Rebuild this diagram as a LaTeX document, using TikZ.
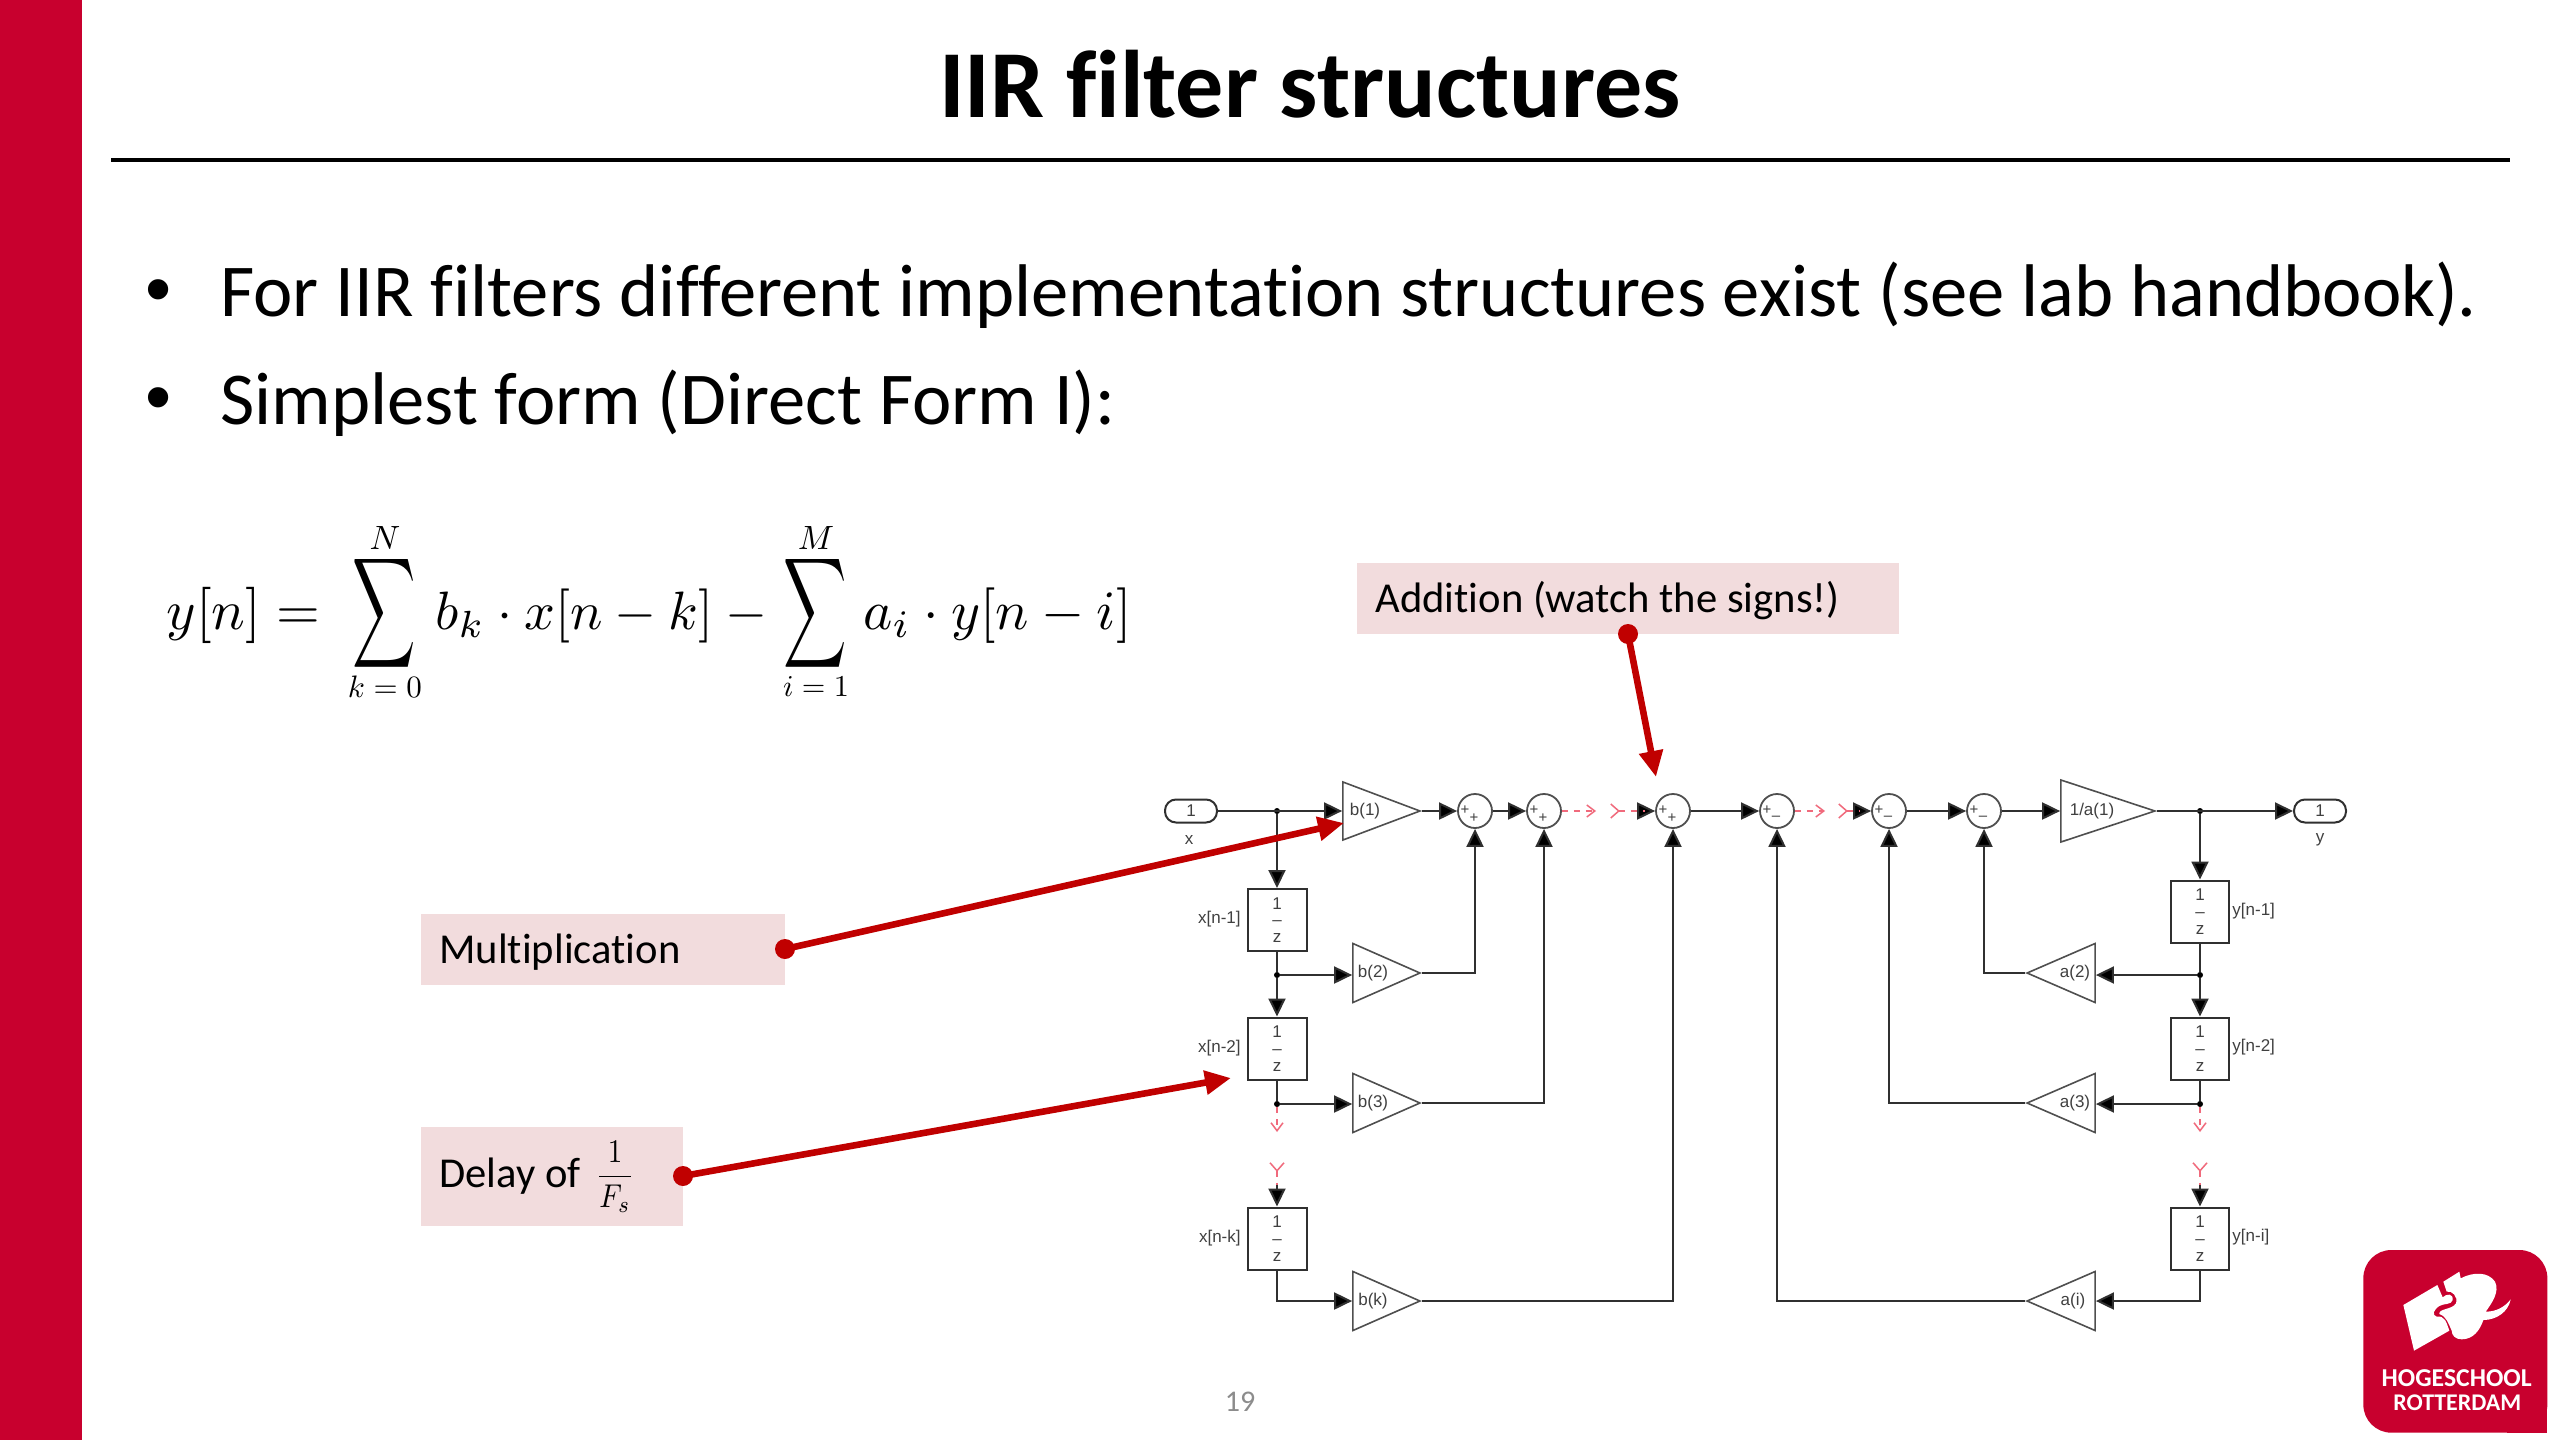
\documentclass[tikz,border=0pt]{standalone}
\usepackage{fix-cm}
\usepackage{fontspec}
\setmainfont{Carlito}[Ligatures={NoCommon}]
\newfontfamily\simfont{Liberation Sans}
\usetikzlibrary{arrows.meta,shapes.geometric,calc}
\definecolor{hrred}{HTML}{C8002E}
\definecolor{callred}{HTML}{C00000}
\definecolor{callpink}{HTML}{F2DCDD}
\definecolor{simred}{HTML}{F06A7C}
\definecolor{simline}{HTML}{303030}
\definecolor{simtxt}{HTML}{404040}
\tikzset{
  x=0.5pt,y=-0.5pt,
  sig/.style={draw=simline,line width=1pt,-{Triangle[length=9pt,width=8.5pt,fill=black]}},
  plain/.style={draw=simline,line width=1pt},
  redbroken/.style={draw=simred,line width=0.75pt,dash pattern=on 3pt off 3pt},
  gainr/.style={draw=simline!85,line width=0.8pt,isosceles triangle,isosceles triangle stretches,inner sep=0pt,anchor=apex},
  gainl/.style={gainr,shape border rotate=180},
  delaybox/.style={draw=simline,line width=1pt,rectangle,inner sep=0pt,align=center,text=simtxt,font=\simfont\fontsize{8.5}{8.4}\selectfont},
  simlabel/.style={font=\simfont\fontsize{8.5}{10}\selectfont,text=simtxt,inner sep=0pt},
  signlabel/.style={font=\simfont\fontsize{7.5}{8}\selectfont,text=simtxt,inner sep=0pt},
  port/.style={draw=simline,line width=1pt,rectangle,rounded corners=5.5pt,minimum width=26pt,minimum height=11.5pt,inner sep=0pt,font=\simfont\fontsize{8.5}{10}\selectfont,text=simtxt},
  sumnode/.style={draw=simline!85,line width=0.9pt,circle,minimum size=17pt,inner sep=0pt},
  jn/.style={circle,fill=black,inner sep=0pt,minimum size=3pt},
  callout/.style={fill=callpink,rectangle,inner sep=0pt,anchor=north west},
  calltext/.style={font=\fontsize{21.3}{24}\selectfont,text=black,inner sep=0pt,anchor=west},
  calldot/.style={circle,fill=callred,inner sep=0pt,minimum size=10pt},
  callarrow/.style={draw=callred,line width=3.3pt,-{Triangle[length=13pt,width=11.5pt]}},
  bodytext/.style={font=\fontsize{37.3}{42}\selectfont,inner sep=0pt,anchor=base west},
  bulletmark/.style={font=\simfont\fontsize{37.3}{42}\selectfont,inner sep=0pt,anchor=center},
  eq/.style={inner sep=0pt,anchor=base west},
  eqc/.style={inner sep=0pt,anchor=center},
}
\newcommand{\plusplus}[1]{%
  \node[signlabel] (#1p) at ($(#1)+(-10,-1)$) {+};
  \node[signlabel] (#1q) at ($(#1)+(-1,7)$) {+};}
\newcommand{\plusminus}[1]{%
  \node[signlabel] (#1p) at ($(#1)+(-10,-1)$) {+};
  \node[signlabel] (#1q) at ($(#1)+(-1,7)$) {–};}
\begin{document}
\begin{tikzpicture}
\useasboundingbox (0,0) rectangle (2560,1440);
\fill[white] (0,0) rectangle (2560,1440);
\fill[hrred] (0,0) rectangle (82,1440);
% title
\node[font=\fontsize{48}{54}\bfseries\selectfont,inner sep=0pt] (title) at (1310,84) {IIR filter structures};
\coordinate (rl) at (111,160); \coordinate (rr) at (2510,160);
\draw[line width=2pt] (rl) -- (rr);
% bullets
\node[bulletmark] (b1t) at (159,297) {•};
\node[bodytext] (l1) at (220,316) {For IIR filters different implementation structures exist (see lab handbook).};
\node[bulletmark] (b2t) at (159,405) {•};
\node[bodytext] (l2) at (220,424) {Simplest form (Direct Form I):};
% equation
\node[eq] (e1) at (166,629) {\resizebox{77pt}{!}{$y[n]=$}};
\node[eqc] (s1e) at (384,613) {\scalebox{2.2}[3.85]{$\displaystyle\sum$}};
\node[eqc] (n1e) at (385,538) {\resizebox{!}{11.5pt}{$N$}};
\node[eqc] (k1e) at (385,687) {\resizebox{37pt}{!}{$k=0$}};
\node[eq] (e2) at (435,629) {\resizebox{166pt}{!}{$b_k\cdot x[n-k]\mkern4mu-$}};
\node[eqc] (s2e) at (815,613) {\scalebox{2.2}[3.85]{$\displaystyle\sum$}};
\node[eqc] (n2e) at (816,538) {\resizebox{!}{11.5pt}{$M$}};
\node[eqc] (k2e) at (816,687) {\resizebox{33pt}{!}{$i=1$}};
\node[eq] (e3) at (863,629) {\resizebox{134pt}{!}{$a_i\cdot y[n-i]$}};
% diagram: left
\node[port] (inp) at (1191,811) {1};
\node[simlabel] (xl) at (1189,840) {x};
\node[jn] (j0) at (1277,811) {};
\node[gainr,minimum width=29pt,minimum height=38.5pt] (b1) at (1422,811) {};
\node[simlabel] (b1l) at (1365,811) {b(1)};
\node[sumnode] (s1) at (1475,811) {}; \plusplus{s1}
\node[sumnode] (s2) at (1544,811) {}; \plusplus{s2}
\node[sumnode] (s3) at (1673,811) {}; \plusplus{s3}
\node[delaybox,minimum width=29.5pt,minimum height=31pt] (d1) at (1277,920) {1\\–\\z};
\node[simlabel,anchor=east] (d1l) at (1241,919) {x[n-1]};
\node[jn] (j1) at (1277,975) {};
\node[gainr,minimum width=29.5pt,minimum height=33.5pt] (b2) at (1422,973) {};
\node[simlabel] (b2l) at (1373,973) {b(2)};
\node[delaybox,minimum width=29.5pt,minimum height=31pt] (d2) at (1277,1048.5) {1\\–\\z};
\node[simlabel,anchor=east] (d2l) at (1241,1048) {x[n-2]};
\node[jn] (j2) at (1277,1104) {};
\node[gainr,minimum width=29.5pt,minimum height=33.5pt] (b3) at (1422,1103) {};
\node[simlabel] (b3l) at (1373,1103) {b(3)};
\node[delaybox,minimum width=29.5pt,minimum height=31pt] (d3) at (1277,1238.5) {1\\–\\z};
\node[simlabel,anchor=east] (d3l) at (1241,1238) {x[n-k]};
\node[gainr,minimum width=29.5pt,minimum height=33.5pt] (b4) at (1422,1301) {};
\node[simlabel] (b4l) at (1373,1301) {b(k)};
% right
\node[sumnode] (s4) at (1777,811) {}; \plusminus{s4}
\node[sumnode] (s5) at (1889,811) {}; \plusminus{s5}
\node[sumnode] (s6) at (1984,811) {}; \plusminus{s6}
\node[gainr,minimum width=31pt,minimum height=47pt] (g1) at (2157,811) {};
\node[simlabel] (g1l) at (2092,811) {1/a(1)};
\node[jn] (j3) at (2200,811) {};
\node[port] (outp) at (2320,811) {1};
\node[simlabel] (yl) at (2320,840) {y};
\node[delaybox,minimum width=29pt,minimum height=31pt] (f1) at (2200,911.5) {1\\–\\z};
\node[simlabel,anchor=west] (f1l) at (2232,911) {y[n-1]};
\node[jn] (j4) at (2200,975) {};
\node[gainl,minimum width=29.5pt,minimum height=34pt] (a2) at (2025,973) {};
\node[simlabel] (a2l) at (2075,973) {a(2)};
\node[delaybox,minimum width=29pt,minimum height=31pt] (f2) at (2200,1048.5) {1\\–\\z};
\node[simlabel,anchor=west] (f2l) at (2232,1047) {y[n-2]};
\node[jn] (j5) at (2200,1104) {};
\node[gainl,minimum width=29.5pt,minimum height=34pt] (a3) at (2025,1103) {};
\node[simlabel] (a3l) at (2075,1103) {a(3)};
\node[delaybox,minimum width=29pt,minimum height=31pt] (f3) at (2200,1238.5) {1\\–\\z};
\node[simlabel,anchor=west] (f3l) at (2232,1237) {y[n-i]};
\node[gainl,minimum width=29.5pt,minimum height=34pt] (a4) at (2025,1301) {};
\node[simlabel] (a4l) at (2073,1301) {a(i)};
% free ends of the broken red parts
\coordinate (r1a) at (1596,811); \coordinate (r1b) at (1610,811); \coordinate (r1c) at (1645,811);
\coordinate (r2a) at (1277,1132); \coordinate (r2b) at (1277,1162); \coordinate (r2c) at (1277,1185);
\coordinate (r3a) at (1825,811); \coordinate (r3b) at (1838,811); \coordinate (r3c) at (1860,811);
\coordinate (r4a) at (2200,1132); \coordinate (r4b) at (2200,1162); \coordinate (r4c) at (2200,1185);
% connectors
\draw[sig] (inp.east) -- (b1.lower side);
\draw[sig] (j0) -- (d1.north);
\draw[plain] (d1.south) -- (j1);
\draw[sig] (j1) -- (j1 -| b2.lower side);
\draw[sig] (j1) -- (d2.north);
\draw[plain] (d2.south) -- (j2);
\draw[sig] (j2) -- (j2 -| b3.lower side);
\draw[sig] (r2c) -- (d3.north);
\draw[sig] (d3.south) |- (b4.lower side);
\draw[sig] (b1.apex) -- (s1.west);
\draw[sig] (s1.east) -- (s2.west);
\draw[sig] (r1c) -- (s3.west);
\draw[sig] (s3.east) -- (s4.west);
\draw[sig] (r3c) -- (s5.west);
\draw[sig] (s5.east) -- (s6.west);
\draw[sig] (s6.east) -- (g1.lower side);
\draw[sig] (g1.apex) -- (outp.west);
\draw[sig] (b2.apex) -| (s1.south);
\draw[sig] (b3.apex) -| (s2.south);
\draw[sig] (b4.apex) -| (s3.south);
\draw[sig] (a2.apex) -| (s6.south);
\draw[sig] (a3.apex) -| (s5.south);
\draw[sig] (a4.apex) -| (s4.south);
\draw[sig] (j3) -- (f1.north);
\draw[plain] (f1.south) -- (j4);
\draw[sig] (j4) -- (j4 -| a2.lower side);
\draw[sig] (j4) -- (f2.north);
\draw[plain] (f2.south) -- (j5);
\draw[sig] (j5) -- (j5 -| a3.lower side);
\draw[sig] (r4c) -- (f3.north);
\draw[sig] (f3.south) |- (a4.lower side);
% red broken lines
\draw[redbroken,-{Straight Barb[length=4pt,width=6pt]}] (s2.east) -- (r1a);
\draw[redbroken,{Straight Barb[reversed,length=4pt,width=7pt]}-] (r1b) -- (r1c);
\draw[redbroken,-{Straight Barb[length=4pt,width=6pt]}] (s4.east) -- (r3a);
\draw[redbroken,{Straight Barb[reversed,length=4pt,width=7pt]}-] (r3b) -- (r3c);
\draw[redbroken,-{Straight Barb[length=4pt,width=6pt]}] (j2) -- (r2a);
\draw[redbroken,{Straight Barb[reversed,length=4pt,width=7pt]}-] (r2b) -- (r2c);
\draw[redbroken,-{Straight Barb[length=4pt,width=6pt]}] (j5) -- (r4a);
\draw[redbroken,{Straight Barb[reversed,length=4pt,width=7pt]}-] (r4b) -- (r4c);
% callouts
\node[callout,minimum width=271pt,minimum height=35.5pt] (c1) at (1357,563) {};
\node[calltext] (c1t) at (1375,601) {Addition (watch the signs!)};
\node[calldot] (c1d) at (1628,634) {};
\coordinate (c1e) at (1656,777);
\draw[callarrow] (c1d.center) -- (c1e);
\node[callout,minimum width=182pt,minimum height=35.5pt] (c2) at (421,914) {};
\node[calltext] (c2t) at (439,952) {Multiplication};
\node[calldot] (c2d) at (785,949) {};
\coordinate (c2e) at (1344,823);
\draw[callarrow] (c2d.center) -- (c2e);
\node[callout,minimum width=131pt,minimum height=49.5pt] (c3) at (421,1127) {};
\node[calltext] (c3t) at (439,1176) {Delay of};
\node[inner sep=0pt] (c3f) at (615,1177) {\scalebox{1.45}[1.65]{$\displaystyle\frac{1}{F_s}$}};
\node[calldot] (c3d) at (683,1176) {};
\coordinate (c3e) at (1231,1078);
\draw[callarrow] (c3d.center) -- (c3e);
% page number
\node[font=\fontsize{15}{18}\selectfont,text=black!45,inner sep=0pt] (pg) at (1240,1402) {19};
% logo
\begin{scope}[shift={(2340,1240)},x=0.16667pt,y=-0.16667pt]
\fill[hrred,rounded corners=14pt] (70,30) rectangle (622,578);
\fill[hrred] (500,450) rectangle (622,578);
\fill[white] (190,195) -- (292,135) -- (308,172) .. controls (320,160) and (340,160) .. (338,180)
  .. controls (335,195) and (310,190) .. (298,198) .. controls (280,210) and (275,225) .. (290,230)
  .. controls (315,225) and (320,250) .. (328,272) -- (222,332) -- cycle;
\fill[white] (310,125) -- (358,95) -- (362,115) .. controls (400,95) and (445,95) .. (465,125)
  .. controls (480,155) and (455,190) .. (437,215) .. controls (470,215) and (495,200) .. (512,178)
  .. controls (505,215) and (470,240) .. (430,240) .. controls (420,270) and (400,298) .. (365,298)
  .. controls (345,298) and (335,285) .. (335,272) .. controls (325,250) and (320,230) .. (298,222)
  .. controls (295,205) and (335,210) .. (348,190) .. controls (355,170) and (335,150) .. (320,155) -- cycle;
\node[inner sep=0pt,text=white] (lg1) at (350,415) {\resizebox{75pt}{!}{\bfseries HOGESCHOOL}};
\node[inner sep=0pt,text=white] (lg2) at (352,487) {\resizebox{64pt}{!}{\bfseries ROTTERDAM}};
\end{scope}
\end{tikzpicture}
\end{document}
